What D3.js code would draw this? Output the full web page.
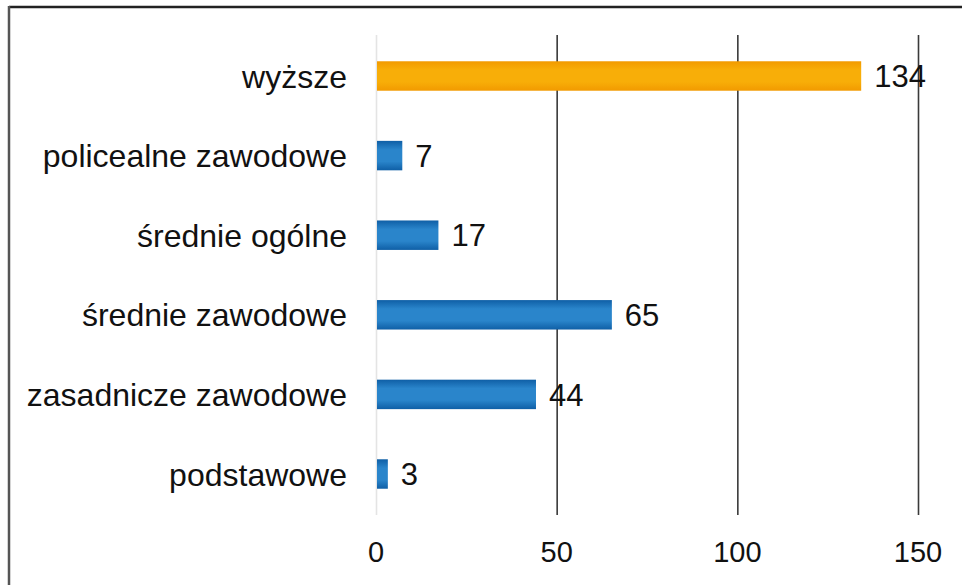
<html>
<head>
	<meta charset="utf-8">
	<script src="https://d3js.org/d3.v7.min.js"></script>
	<style>
		body { margin: 0; background: #fff; }
		text { font-family: "Liberation Sans", Arial, sans-serif; fill: #111; }
	</style>
</head>
<body>
	<svg width="962" height="585"></svg>
	<script>
		var categories = ["wyższe", "policealne zawodowe", "średnie ogólne", "średnie zawodowe", "zasadnicze zawodowe", "podstawowe"];
		var values = [134, 7, 17, 65, 44, 3];
		var highlight = ["wyższe"];
		var ticks = [0, 50, 100, 150];

		var svg = d3.select("svg"),
			margin = { top: 35, right: 44, bottom: 70, left: 376 },
			width = 962, height = 585;

		// frame (scanned border, top + left only)
		svg.append("line").attr("x1", 9).attr("x2", 962).attr("y1", 7).attr("y2", 7)
			.attr("stroke", "#222").attr("stroke-width", 2.5);
		svg.append("line").attr("x1", 9).attr("x2", 9).attr("y1", 6).attr("y2", 585)
			.attr("stroke", "#555").attr("stroke-width", 2.5);

		var defs = svg.append("defs");
		function grad(id, edge, mid) {
			var g = defs.append("linearGradient").attr("id", id)
				.attr("x1", 0).attr("y1", 0).attr("x2", 0).attr("y2", 1);
			g.append("stop").attr("offset", "0%").attr("stop-color", edge);
			g.append("stop").attr("offset", "30%").attr("stop-color", mid);
			g.append("stop").attr("offset", "70%").attr("stop-color", mid);
			g.append("stop").attr("offset", "100%").attr("stop-color", edge);
		}
		grad("gBlue", "#0f5fa6", "#2a85cb");
		grad("gOrange", "#f29a00", "#f8ae08");

		var x = d3.scaleLinear()
			.domain([0, 150])
			.range([margin.left, width - margin.right]);

		var y = d3.scaleBand()
			.domain(categories)
			.range([margin.top, height - margin.bottom])
			.paddingInner(0.63)
			.paddingOuter(0.33);

		// gridlines
		svg.append("g")
			.selectAll("line")
			.data(ticks)
			.enter().append("line")
			.attr("x1", function (d) { return x(d) + 0.5; })
			.attr("x2", function (d) { return x(d) + 0.5; })
			.attr("y1", margin.top)
			.attr("y2", height - margin.bottom)
			.attr("stroke", function (d) { return d === 0 ? "#e4e4e4" : "#3a3a3a"; })
			.attr("stroke-width", 1.6);

		// bars
		svg.append("g")
			.selectAll("rect")
			.data(categories)
			.enter().append("rect")
			.attr("x", x(0) + 1)
			.attr("y", function (d) { return y(d); })
			.attr("width", function (d, i) { return x(values[i]) - x(0); })
			.attr("height", y.bandwidth())
			.attr("fill", function (d) { return highlight.indexOf(d) >= 0 ? "url(#gOrange)" : "url(#gBlue)"; });

		// value labels
		svg.append("g")
			.selectAll("text")
			.data(categories)
			.enter().append("text")
			.attr("x", function (d, i) { return x(values[i]) + 14; })
			.attr("y", function (d) { return y(d) + y.bandwidth() / 2; })
			.attr("dy", "0.36em")
			.attr("font-size", 31)
			.text(function (d, i) { return values[i]; });

		// category labels
		svg.append("g")
			.selectAll("text")
			.data(categories)
			.enter().append("text")
			.attr("x", 347)
			.attr("y", function (d) { return y(d) + y.bandwidth() / 2; })
			.attr("dy", "0.36em")
			.attr("text-anchor", "end")
			.attr("font-size", 32)
			.text(function (d) { return d; });

		// x tick labels
		svg.append("g")
			.selectAll("text")
			.data(ticks)
			.enter().append("text")
			.attr("x", function (d) { return x(d); })
			.attr("y", 552)
			.attr("dy", "0.36em")
			.attr("text-anchor", "middle")
			.attr("font-size", 29)
			.text(function (d) { return d; });
	</script>
</body>
</html>
